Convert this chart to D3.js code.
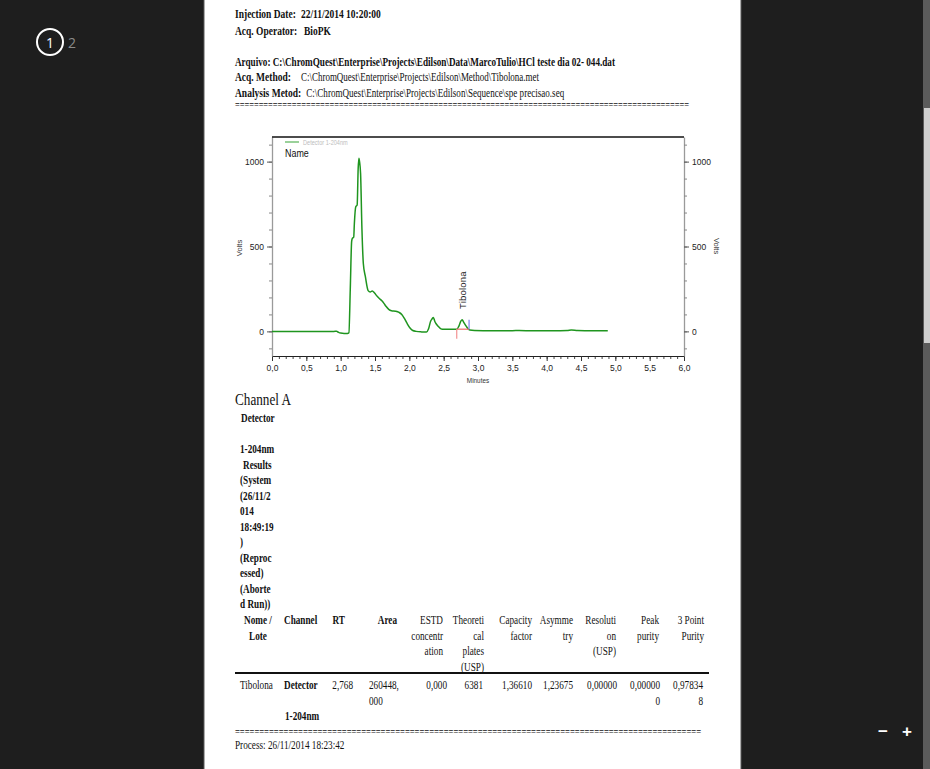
<!DOCTYPE html>
<html>
<head>
<meta charset="utf-8">
<script src="https://cdn.jsdelivr.net/npm/d3@7"></script>
<style>
  html, body { margin: 0; padding: 0; background: #1e1e1e; overflow: hidden; }
  svg { display: block; }
</style>
</head>
<body>
<svg id="page" width="930" height="769"></svg>
<script>
// ---------------- DATA ----------------
const times = [0, 0.90, 0.94, 0.97, 1.00, 1.05, 1.10, 1.12, 1.14, 1.16, 1.17, 1.19, 1.20, 1.22, 1.24, 1.255, 1.265, 1.275, 1.29, 1.31, 1.33, 1.36, 1.40, 1.43, 1.46, 1.49, 1.52, 1.56, 1.60, 1.63, 1.66, 1.70, 1.74, 1.80, 1.85, 1.89, 1.93, 1.97, 2.01, 2.05, 2.10, 2.18, 2.25, 2.28, 2.31, 2.33, 2.35, 2.37, 2.39, 2.42, 2.46, 2.50, 2.60, 2.69, 2.72, 2.75, 2.77, 2.79, 2.82, 2.85, 2.88, 2.95, 3.20, 3.50, 3.60, 3.80, 4.10, 4.30, 4.36, 4.45, 4.60, 4.80, 4.89];
const volts = [0, 0, 1, -6, -10, -12, -12, -8, 250, 530, 548, 555, 640, 734, 744, 960, 1020, 1000, 930, 600, 400, 322, 240, 232, 238, 228, 212, 195, 180, 165, 148, 130, 122, 119, 112, 100, 75, 45, 20, 5, 0, -3, -4, 15, 60, 73, 82, 60, 45, 30, 15, 12, 12, 12, 30, 60, 68, 55, 35, 18, 8, 5, 4, 4, 5, 3, 3, 5, 8, 5, 4, 3, 3];
const peakName = "Tibolona";
const peakRT = 2.768;
const peakLabelBase = 132;
const peakStart = 2.69, peakEnd = 2.87, peakBaseline = 13;
const xMajorTicks = [0, 0.5, 1, 1.5, 2, 2.5, 3, 3.5, 4, 4.5, 5, 5.5, 6];
const yMajorTicks = [0, 500, 1000];
const legendLabel = "Detector 1-204nm";

const headerInfo = [
  ["Injection Date:", "22/11/2014 10:20:00"],
  ["Acq. Operator:", "BioPK"]
];
const fileInfo = [
  ["Arquivo:", "C:\\ChromQuest\\Enterprise\\Projects\\Edilson\\Data\\MarcoTulio\\HCl teste dia 02- 044.dat"],
  ["Acq. Method:", "C:\\ChromQuest\\Enterprise\\Projects\\Edilson\\Method\\Tibolona.met"],
  ["Analysis Metod:", "C:\\ChromQuest\\Enterprise\\Projects\\Edilson\\Sequence\\spe precisao.seq"]
];
const channelTitle = "Channel A";
const resultsTitle = ["Detector", "", "1-204nm", "Results", "(System", "(26/11/2", "014", "18:49:19", ")", "(Reproc", "essed)", "(Aborte", "d Run))"];
const tableHeaders = [
  ["Nome /", "Lote"], ["Channel"], ["RT"], ["Area"],
  ["ESTD", "concentr", "ation"], ["Theoreti", "cal", "plates", "(USP)"],
  ["Capacity", "factor"], ["Asymme", "try"], ["Resoluti", "on", "(USP)"],
  ["Peak", "purity"], ["3 Point", "Purity"]
];
const tableRow = [
  ["Tibolona"], ["Detector", "", "1-204nm"], ["2,768"], ["260448,", "000"],
  ["0,000"], ["6381"], ["1,36610"], ["1,23675"], ["0,00000"],
  ["0,00000", "0"], ["0,97834", "8"]
];
const processLine = "Process:  26/11/2014 18:23:42";

// ---------------- LAYOUT ----------------
const svg = d3.select("#page");
const SERIF = "'Liberation Serif','Times New Roman',serif";
const SANS = "'Liberation Sans',Arial,sans-serif";

// page sheet
svg.append("rect").attr("x", 204).attr("y", 0).attr("width", 537).attr("height", 769).attr("fill", "#ffffff");
svg.append("line").attr("x1", 204).attr("x2", 204).attr("y1", 0).attr("y2", 769).attr("stroke", "#5a5a5a");
svg.append("line").attr("x1", 741).attr("x2", 741).attr("y1", 0).attr("y2", 769).attr("stroke", "#5a5a5a");

// viewer chrome
svg.append("circle").attr("cx", 50).attr("cy", 42).attr("r", 13).attr("fill", "none").attr("stroke", "#ffffff").attr("stroke-width", 2);
svg.append("text").attr("x", 50).attr("y", 47.5).attr("text-anchor", "middle").attr("fill", "#ffffff")
  .attr("font-family", "'Open Sans',sans-serif").attr("font-size", 14).text("1");
svg.append("text").attr("x", 68).attr("y", 47.5).attr("fill", "#8a8a8a")
  .attr("font-family", "'Open Sans',sans-serif").attr("font-size", 14).text("2");
svg.append("rect").attr("x", 923).attr("y", 0).attr("width", 7).attr("height", 769).attr("fill", "#5b5b5b");
svg.append("rect").attr("x", 924).attr("y", 108).attr("width", 6).attr("height", 235).attr("fill", "#cfcfcf");
svg.append("text").attr("x", 883).attr("y", 737).attr("text-anchor", "middle").attr("fill", "#fff")
  .attr("font-family", SANS).attr("font-weight", "bold").attr("font-size", 17).text("\u2212");
svg.append("text").attr("x", 907).attr("y", 737).attr("text-anchor", "middle").attr("fill", "#fff")
  .attr("font-family", SANS).attr("font-weight", "bold").attr("font-size", 17).text("+");

// text helper: horizontally condensed serif text
function txt(x, y, s, o = {}) {
  const sx = o.sx ?? 0.8;
  const t = svg.append("text")
    .attr("transform", `translate(${x},${y}) scale(${sx},1)`)
    .attr("font-family", o.family ?? SERIF)
    .attr("font-size", o.size ?? 11.5)
    .attr("font-weight", o.bold ? "bold" : "normal")
    .attr("text-anchor", o.anchor ?? "start")
    .attr("fill", o.fill ?? "#111")
    .text(s);
  if (o.len) t.attr("textLength", o.len / sx).attr("lengthAdjust", "spacingAndGlyphs");
  return t;
}
// label + value pair, value placed after label with a minimum gap
function pair(x, y, label, value, vx, o) {
  const l = txt(x, y, label, { bold: true, size: o.size, sx: o.sx });
  const end = x + l.node().getComputedTextLength() * o.sx;
  txt(Math.max(vx, end + 5), y, value, { bold: o.valueBold, size: o.size, sx: o.sx, len: o.len });
}

// header block
pair(235, 18, headerInfo[0][0], headerInfo[0][1], 300, { size: 12.5, sx: 0.76, valueBold: true });
pair(235, 35, headerInfo[1][0], headerInfo[1][1], 304, { size: 12.5, sx: 0.76, valueBold: true });
txt(235, 66, fileInfo[0][0] + "  " + fileInfo[0][1], { bold: true, size: 12.5, len: 380 });
pair(235, 81, fileInfo[1][0], fileInfo[1][1], 301, { size: 12.5, sx: 0.76, valueBold: false, len: 238 });
pair(235, 97, fileInfo[2][0], fileInfo[2][1], 302, { size: 12.5, sx: 0.76, valueBold: false, len: 258 });
txt(235, 109, "=".repeat(96), { size: 12, len: 454 });

// ---------------- CHART ----------------
const x = d3.scaleLinear().domain([0, 6]).range([272, 684]);
const y = d3.scaleLinear().domain([-145, 1145]).range([356, 137]);
const g = svg.append("g");

// axes
const fmt = d => d3.format(".1f")(d).replace(".", ",");
const xMinor = d3.range(0, 61).map(d => d / 10);
g.append("g").attr("transform", "translate(0,356)")
  .call(d3.axisBottom(x).tickValues(xMinor).tickSize(3).tickFormat(""))
  .call(a => a.select(".domain").remove())
  .call(a => a.selectAll("line").attr("stroke", "#444"));
g.append("g").attr("transform", "translate(0,356)")
  .call(d3.axisBottom(x).tickValues(xMajorTicks).tickSize(5).tickSizeOuter(0).tickFormat(fmt))
  .call(a => a.select(".domain").attr("stroke", "#222").attr("stroke-width", 1.2))
  .call(a => a.selectAll("line").attr("stroke", "#333"))
  .call(a => a.selectAll("text").attr("font-family", SANS).attr("font-size", 8.5).attr("fill", "#222")
    .attr("dy", "0.85em"));
const yMinor = d3.range(-100, 1101, 100);
[["left", 272, d3.axisLeft], ["right", 684, d3.axisRight]].forEach(([side, px, axisFn]) => {
  g.append("g").attr("transform", `translate(${px},0)`)
    .call(axisFn(y).tickValues(yMinor).tickSize(3).tickFormat("").tickSizeOuter(0))
    .call(a => a.select(".domain").attr("stroke", "#9a9a9a").attr("stroke-width", 1.3))
    .call(a => a.selectAll(".tick line").attr("stroke", "#888"));
  g.append("g").attr("transform", `translate(${px},0)`)
    .call(axisFn(y).tickValues(yMajorTicks).tickSize(5).tickSizeOuter(0).tickFormat(d3.format("d")))
    .call(a => a.select(".domain").remove())
    .call(a => a.selectAll(".tick line").attr("stroke", "#555"))
    .call(a => a.selectAll("text").attr("font-family", SANS).attr("font-size", 8.5).attr("fill", "#222"));
});
// top border
g.append("line").attr("x1", 272).attr("x2", 684).attr("y1", 137).attr("y2", 137).attr("stroke", "#111").attr("stroke-width", 1.5);

// axis titles
g.append("text").attr("transform", "translate(478,383) scale(0.85,1)").attr("text-anchor", "middle").attr("font-family", SANS)
  .attr("font-size", 7.5).attr("fill", "#333").text("Minutes");
g.append("text").attr("transform", "translate(242,248) rotate(-90)").attr("text-anchor", "middle")
  .attr("font-family", SANS).attr("font-size", 7.5).attr("fill", "#333").text("Volts");
g.append("text").attr("transform", "translate(714,246) rotate(90)").attr("text-anchor", "middle")
  .attr("font-family", SANS).attr("font-size", 7.5).attr("fill", "#333").text("Volts");

// trace
const pts = times.map((t, i) => [t, volts[i]]);
g.append("path").datum(pts)
  .attr("d", d3.line().x(d => x(d[0])).y(d => y(d[1])).curve(d3.curveMonotoneX))
  .attr("fill", "none").attr("stroke", "#1f951f").attr("stroke-width", 1.5).attr("stroke-linejoin", "round");

// peak markers
g.append("line").attr("x1", x(peakStart)).attr("x2", x(peakEnd)).attr("y1", y(peakBaseline)).attr("y2", y(peakBaseline))
  .attr("stroke", "#ee6a6a").attr("stroke-width", 1.2);
g.append("line").attr("x1", x(peakStart)).attr("x2", x(peakStart)).attr("y1", y(peakBaseline)).attr("y2", y(peakBaseline - 57))
  .attr("stroke", "#f49a9a").attr("stroke-width", 1.3);
g.append("line").attr("x1", x(peakEnd)).attr("x2", x(peakEnd)).attr("y1", y(peakBaseline)).attr("y2", y(peakBaseline + 55))
  .attr("stroke", "#8a8af0").attr("stroke-width", 1.3);
g.append("text").attr("transform", `translate(${x(peakRT) + 3.5},${y(peakLabelBase)}) rotate(-90)`)
  .attr("font-family", SANS).attr("font-size", 9.5).attr("fill", "#222").attr("letter-spacing", 0.2).text(peakName);

// legend
g.append("line").attr("x1", 285).attr("x2", 299).attr("y1", 142).attr("y2", 142).attr("stroke", "#79c279").attr("stroke-width", 1.5);
g.append("text").attr("transform", "translate(303,144.5) scale(0.8,1)").attr("font-family", SANS).attr("font-size", 7)
  .attr("fill", "#bdbdbd").text(legendLabel);
g.append("text").attr("transform", "translate(285,157) scale(0.85,1)").attr("font-family", SANS).attr("font-size", 10.5)
  .attr("fill", "#111").text("Name");

// ---------------- TABLE ----------------
txt(235, 405, channelTitle, { size: 17, len: 56 });
const lineH = 15.5;
const resX = [241, 240, 240, 243, 240, 240, 240, 240, 240, 240, 240, 240, 240];
resultsTitle.forEach((s, i) => { if (s) txt(resX[i], 422 + i * lineH, s, { bold: true, size: 11.5 }); });

const colX = [258, 284, 345, 397, 443, 484, 532, 573, 616, 659, 704];
const colAnchor = ["middle", "start", "end", "end", "end", "end", "end", "end", "end", "end", "end"];
const colBold = [true, true, true, true, false, false, false, false, false, false, false];
const headY = 624;
tableHeaders.forEach((lines, c) => {
  lines.forEach((s, i) => txt(colX[c], headY + i * lineH, s, { bold: colBold[c], size: 11.5, anchor: colAnchor[c] }));
});
svg.append("line").attr("x1", 235).attr("x2", 709).attr("y1", 673).attr("y2", 673).attr("stroke", "#111").attr("stroke-width", 2);

const rowX = [240, 284, 353, 369, 447, 483, 532, 573, 617, 660, 703];
const rowAnchor = ["start", "start", "end", "start", "end", "end", "end", "end", "end", "end", "end"];
const rowBold = [false, true, false, false, false, false, false, false, false, false, false];
const rowY = 689;
tableRow.forEach((lines, c) => {
  lines.forEach((s, i) => { if (s) txt(rowX[c] + (c === 1 && i === 2 ? 1 : 0), rowY + i * lineH, s, { bold: rowBold[c], size: 11.5, anchor: rowAnchor[c] }); });
});
txt(235, 736, "=".repeat(96), { size: 12, len: 466 });
txt(235, 749, processLine, { size: 11.5 });
</script>
</body>
</html>
